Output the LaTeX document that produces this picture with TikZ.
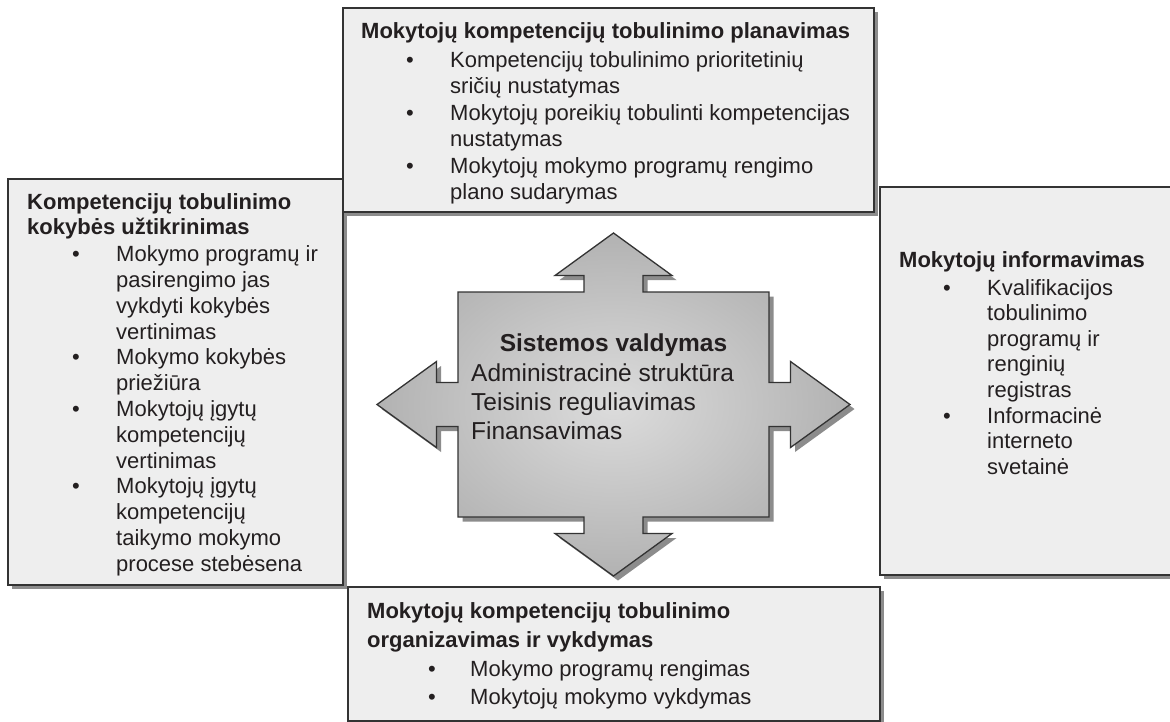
\documentclass[tikz,border=0pt]{standalone}
\usepackage{fontspec}
\setmainfont{Liberation Sans}
\usetikzlibrary{shadows}

\definecolor{boxfill}{HTML}{EEEEEE}
\definecolor{edgecol}{HTML}{333333}
\definecolor{shadowcol}{HTML}{8C8C8C}
\definecolor{txt}{HTML}{231F20}
\definecolor{shadeinner}{HTML}{DCDCDC}
\definecolor{shadeouter}{HTML}{B2B2B2}

\begin{document}
\begin{tikzpicture}[x=1pt,y=-1pt,
  panel/.style={draw=edgecol, line width=1.6pt, fill=boxfill, inner sep=0pt, rectangle, anchor=north west,
    drop shadow={shadow xshift=4.5pt, shadow yshift=-4.5pt, fill=shadowcol, opacity=1}},
  ttl/.style={anchor=base west, inner sep=0pt, font=\fontsize{22}{26}\selectfont\bfseries, text=txt},
  itm/.style={anchor=base west, inner sep=0pt, font=\fontsize{22}{26}\selectfont, text=txt},
  dot/.style={anchor=base, inner sep=0pt, font=\fontsize{22}{26}\selectfont, text=txt},
  ctitle/.style={anchor=base, inner sep=0pt, font=\fontsize{24.5}{29}\selectfont\bfseries, text=txt},
  citm/.style={anchor=base west, inner sep=0pt, font=\fontsize{24.5}{29}\selectfont, text=txt},
  crossarrow/.style={insert path={(613.5,233) -- (672,275.5) -- (643,275.5) -- (643,292) -- (769,292)
    -- (769,382.5) -- (790.5,382.5) -- (790.5,361.5) -- (850,404.5) -- (790.5,447.5) -- (790.5,426.5)
    -- (769,426.5) -- (769,517) -- (643,517) -- (643,533.5) -- (672,533.5) -- (613.5,576)
    -- (555,533.5) -- (584,533.5) -- (584,517) -- (458,517) -- (458,426.5) -- (436.5,426.5)
    -- (436.5,447.5) -- (377,404.5) -- (436.5,361.5) -- (436.5,382.5) -- (458,382.5) -- (458,292)
    -- (584,292) -- (584,275.5) -- (555,275.5) -- cycle}}
]
\useasboundingbox (0,0) rectangle (1170,721);
\fill[white] (0,0) rectangle (1170,721);

% panels
\node[panel, minimum width=335pt, minimum height=406pt] (leftbox) at (7,178) {};
\node[panel, minimum width=300pt, minimum height=388pt] (rightbox) at (879,186) {};
\node[panel, minimum width=531pt, minimum height=204pt] (topbox) at (342,7) {};
\node[panel, minimum width=532pt, minimum height=134pt] (bottombox) at (347,586) {};

% central cross arrow
\fill[shift={(4.5,4.5)}, shadowcol, crossarrow];
\shadedraw[inner color=shadeinner, outer color=shadeouter, draw=edgecol, line width=1.3pt, line join=miter, crossarrow];

\node[ctitle] (ct) at (613.5,351.5) {Sistemos valdymas};
\node[citm] (c1) at (471,381) {Administracinė struktūra};
\node[citm] (c2) at (471,410) {Teisinis reguliavimas};
\node[citm] (c3) at (471,439) {Finansavimas};

% top box text
\node[ttl] (toptitle) at (361,38) {Mokytojų kompetencijų tobulinimo planavimas};
\node[dot] (topb1) at (410,67) {•};
\node[itm] (top1a) at (450,67) {Kompetencijų tobulinimo prioritetinių};
\node[itm] (top1b) at (450,93.5) {sričių nustatymas};
\node[dot] (topb2) at (410,120) {•};
\node[itm] (top2a) at (450,120) {Mokytojų poreikių tobulinti kompetencijas};
\node[itm] (top2b) at (450,146.5) {nustatymas};
\node[dot] (topb3) at (410,173) {•};
\node[itm] (top3a) at (450,173) {Mokytojų mokymo programų rengimo};
\node[itm] (top3b) at (450,199.5) {plano sudarymas};

% left box text
\node[ttl] (lefttitle1) at (27,209.5) {Kompetencijų tobulinimo};
\node[ttl] (lefttitle2) at (27,234.5) {kokybės užtikrinimas};
\node[dot] (leftb1) at (76,261.7) {•};
\node[itm] (left1a) at (116,261.7) {Mokymo programų ir};
\node[itm] (left1b) at (116,287.5) {pasirengimo jas};
\node[itm] (left1c) at (116,313.3) {vykdyti kokybės};
\node[itm] (left1d) at (116,339.1) {vertinimas};
\node[dot] (leftb2) at (76,364.9) {•};
\node[itm] (left2a) at (116,364.9) {Mokymo kokybės};
\node[itm] (left2b) at (116,390.7) {priežiūra};
\node[dot] (leftb3) at (76,416.5) {•};
\node[itm] (left3a) at (116,416.5) {Mokytojų įgytų};
\node[itm] (left3b) at (116,442.3) {kompetencijų};
\node[itm] (left3c) at (116,468.1) {vertinimas};
\node[dot] (leftb4) at (76,493.9) {•};
\node[itm] (left4a) at (116,493.9) {Mokytojų įgytų};
\node[itm] (left4b) at (116,519.7) {kompetencijų};
\node[itm] (left4c) at (116,545.5) {taikymo mokymo};
\node[itm] (left4d) at (116,571.3) {procese stebėsena};

% right box text
\node[ttl] (righttitle) at (899,267.3) {Mokytojų informavimas};
\node[dot] (rightb1) at (947,295) {•};
\node[itm] (right1a) at (987,295) {Kvalifikacijos};
\node[itm] (right1b) at (987,320.6) {tobulinimo};
\node[itm] (right1c) at (987,346.2) {programų ir};
\node[itm] (right1d) at (987,371.8) {renginių};
\node[itm] (right1e) at (987,397.4) {registras};
\node[dot] (rightb2) at (947,423) {•};
\node[itm] (right2a) at (987,423) {Informacinė};
\node[itm] (right2b) at (987,448.6) {interneto};
\node[itm] (right2c) at (987,474.2) {svetainė};

% bottom box text
\node[ttl] (bottomtitle1) at (367,618) {Mokytojų kompetencijų tobulinimo};
\node[ttl] (bottomtitle2) at (367,647) {organizavimas ir vykdymas};
\node[dot] (bottomb1) at (432,676) {•};
\node[itm] (bottom1a) at (470,676) {Mokymo programų rengimas};
\node[dot] (bottomb2) at (432,704) {•};
\node[itm] (bottom2a) at (470,704) {Mokytojų mokymo vykdymas};
\end{tikzpicture}
\end{document}
